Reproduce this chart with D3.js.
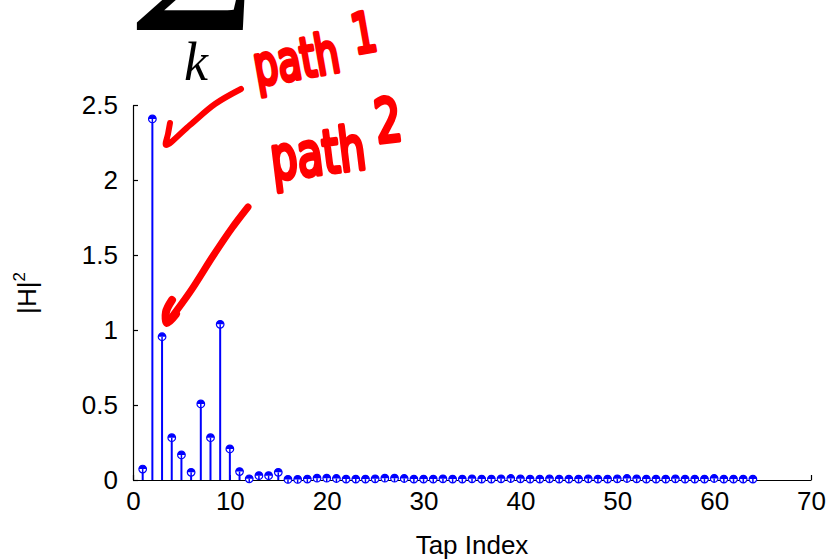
<!DOCTYPE html>
<html>
<head>
<meta charset="utf-8">
<script src="https://cdn.jsdelivr.net/npm/d3@7"></script>
<style>
  body { margin: 0; background: #fff; }
  svg text { font-family: "Liberation Sans", Arial, sans-serif; }
</style>
</head>
<body>
<div id="chart"></div>
<script>
// size of the picture
var width = 827,
    height = 559;

// tap power |H|^2 for taps 1..64
var taps = d3.range(1, 65);
var power = [
  0.073, 2.407, 0.955, 0.282, 0.167, 0.051, 0.507, 0.282, 1.038, 0.207,
  0.056, 0.008, 0.029, 0.029, 0.051, 0.004, 0.004, 0.006, 0.012, 0.012,
  0.010, 0.006, 0.006, 0.006, 0.008, 0.012, 0.012, 0.010, 0.006, 0.006,
  0.006, 0.008, 0.006, 0.006, 0.008, 0.006, 0.006, 0.008, 0.010, 0.008,
  0.006, 0.006, 0.008, 0.006, 0.006, 0.006, 0.008, 0.006, 0.006, 0.008,
  0.010, 0.008, 0.006, 0.006, 0.006, 0.008, 0.006, 0.006, 0.006, 0.010,
  0.006, 0.006, 0.006, 0.006
];
var xTicks = [0, 10, 20, 30, 40, 50, 60, 70];
var yTicks = [0, 0.5, 1, 1.5, 2, 2.5];

var x = d3.scaleLinear().domain([0, 70]).range([133, 811]);
var y = d3.scaleLinear().domain([0, 2.5]).range([480, 105]);

var svg = d3.select("#chart")
    .append("svg")
    .attr("width", width)
    .attr("height", height);

// axes (ticks point inward, like matlab)
var xAxis = svg.append("g")
    .attr("transform", "translate(0," + y(0) + ")")
    .call(d3.axisBottom(x).tickValues(xTicks).tickSizeInner(-5).tickSizeOuter(0).tickPadding(12));

var yAxis = svg.append("g")
    .attr("transform", "translate(" + x(0) + ",0)")
    .call(d3.axisLeft(y).tickValues(yTicks).tickSizeInner(-5).tickSizeOuter(0).tickPadding(15)
      .tickFormat(function(d) { return d; }));

svg.selectAll(".tick text")
    .attr("font-size", 26)
    .attr("fill", "#000")
    .style("font-family", "'Liberation Sans', Arial, sans-serif");
svg.selectAll(".domain").attr("stroke", "#000").attr("stroke-width", 1.2);
svg.selectAll(".tick line").attr("stroke", "#000").attr("stroke-width", 1.2);

// axis titles
svg.append("text")
    .attr("x", 472)
    .attr("y", 554)
    .attr("text-anchor", "middle")
    .attr("font-size", 26)
    .text("Tap Index");

var ylab = svg.append("text")
    .attr("transform", "translate(36,293) rotate(-90)")
    .attr("text-anchor", "middle")
    .attr("font-size", 26);
ylab.append("tspan").text("|H|");
ylab.append("tspan").attr("font-size", 17).attr("dy", -11).text("2");

// stems
var pts = taps.map(function(t, i) { return {t: t, v: power[i]}; });

svg.selectAll("line.stem")
    .data(pts)
    .enter()
    .append("line")
    .attr("class", "stem")
    .attr("x1", function(d) { return x(d.t); })
    .attr("x2", function(d) { return x(d.t); })
    .attr("y1", y(0))
    .attr("y2", function(d) { return y(d.v); })
    .attr("stroke", "#0000ff")
    .attr("stroke-width", 2);

// markers: open circle, top half filled
var r = 3.8;
var mk = svg.selectAll("g.mk")
    .data(pts)
    .enter()
    .append("g")
    .attr("class", "mk")
    .attr("transform", function(d) { return "translate(" + x(d.t) + "," + y(d.v) + ")"; });

mk.append("circle")
    .attr("r", r)
    .attr("fill", "#fff")
    .attr("stroke", "#0000ff")
    .attr("stroke-width", 1.2);
mk.append("path")
    .attr("d", "M" + (-r) + ",0 A" + r + "," + r + " 0 0 1 " + r + ",0 Z")
    .attr("fill", "#0000ff");
mk.append("line")
    .attr("y1", 0).attr("y2", r)
    .attr("stroke", "#0000ff")
    .attr("stroke-width", 1.5);

// formula fragment at the top (only the bottom of the sum sign shows)
svg.append("text")
    .attr("transform", "translate(192,30) scale(1.25,1)")
    .attr("text-anchor", "middle")
    .attr("font-size", 150)
    .attr("font-weight", "bold")
    .style("font-family", "'Liberation Serif', serif")
    .text("\u03A3");

svg.append("text")
    .attr("x", 196)
    .attr("y", 80)
    .attr("text-anchor", "middle")
    .attr("font-size", 54)
    .attr("font-style", "italic")
    .style("font-family", "'Liberation Serif', serif")
    .text("k");

// handwritten notes
var red = "#ff0000";

var n1 = svg.append("text")
    .attr("transform", "translate(257,86) rotate(-10) scale(1.0,1.45)")
    .attr("font-size", 38)
    .attr("fill", red)
    .attr("stroke", red)
    .attr("stroke-width", 3)
    .attr("stroke-linejoin", "round")
    .style("font-family", "'DejaVu Sans', sans-serif");
n1.append("tspan").text("path");
n1.append("tspan").attr("dx", 16).attr("dy", -10).text("1");

var n2 = svg.append("text")
    .attr("transform", "translate(273,180) rotate(-7) scale(1.05,1.5)")
    .attr("font-size", 40)
    .attr("fill", red)
    .attr("stroke", red)
    .attr("stroke-width", 3)
    .attr("stroke-linejoin", "round")
    .style("font-family", "'DejaVu Sans', sans-serif");
n2.append("tspan").text("path");
n2.append("tspan").attr("dx", 12).attr("dy", -16).text("2");

// arrows
var line = d3.line().curve(d3.curveCatmullRom);

svg.append("path")
    .attr("d", line([[241, 89], [215, 104], [190, 125], [166, 145], [168, 134], [170, 123]]))
    .attr("fill", "none")
    .attr("stroke", red)
    .attr("stroke-width", 6)
    .attr("stroke-linecap", "round")
    .attr("stroke-linejoin", "round");

svg.append("path")
    .attr("d", line([[248, 207], [232, 228], [213, 256], [190, 292], [168, 322]]))
    .attr("fill", "none")
    .attr("stroke", red)
    .attr("stroke-width", 7)
    .attr("stroke-linecap", "round");

svg.append("path")
    .attr("d", line([[172, 300], [166, 312], [167, 323], [176, 314]]))
    .attr("fill", "none")
    .attr("stroke", red)
    .attr("stroke-width", 8)
    .attr("stroke-linecap", "round");
</script>
</body>
</html>
